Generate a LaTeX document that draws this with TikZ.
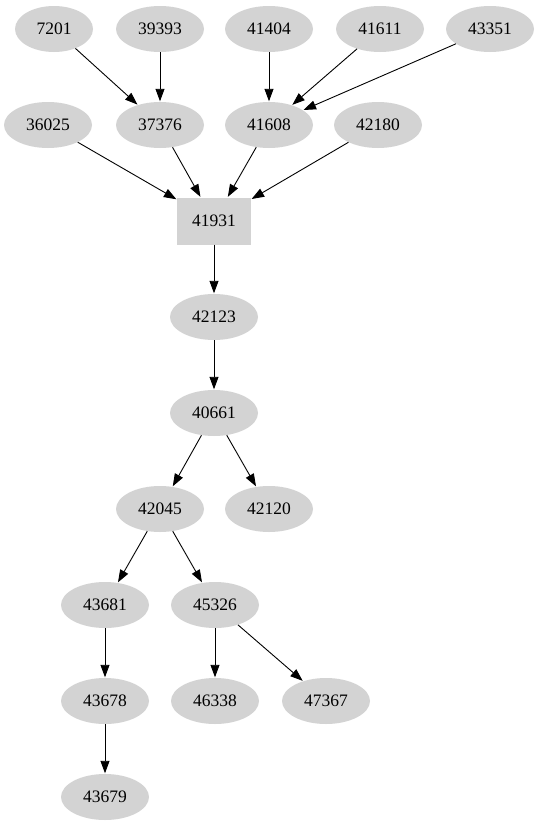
\documentclass[tikz,border=0pt]{standalone}
\usepackage{fontspec}
\setmainfont{Liberation Serif}
\usetikzlibrary{arrows.meta,shapes.geometric}
\definecolor{GGray}{HTML}{D3D3D3}

\begin{document}
\begin{tikzpicture}[
  x=1pt,y=-1pt,
  every node/.style={font=\fontsize{17.5}{20}\selectfont},
  g/.style={ellipse,fill=GGray,inner sep=0pt,
    minimum width=88pt,minimum height=46pt},
  s/.style={rectangle,fill=GGray,inner sep=0pt,
    minimum width=74pt,minimum height=47pt},
  a/.style={-{Triangle[length=12.5pt,width=9pt]},line width=0.9pt,
    color=black,shorten >=0.5pt}
]
  \useasboundingbox (0,0) rectangle (540,827);
  % top rows
  \node[g,minimum width=78pt] (n7201) at (54,29) {7201};
  \node[g] (n39393) at (160,29) {39393};
  \node[g] (n41404) at (269,29) {41404};
  \node[g] (n41611) at (380,29) {41611};
  \node[g] (n43351) at (490,29) {43351};
  \node[g] (n36025) at (48,125) {36025};
  \node[g] (n37376) at (160,125) {37376};
  \node[g] (n41608) at (269,125) {41608};
  \node[g] (n42180) at (378,125) {42180};
  % hub
  \node[s] (n41931) at (214,221) {41931};
  % chain below
  \node[g] (n42123) at (214,317) {42123};
  \node[g] (n40661) at (214,413) {40661};
  \node[g] (n42045) at (160,509) {42045};
  \node[g] (n42120) at (269,509) {42120};
  \node[g] (n43681) at (105,605) {43681};
  \node[g] (n45326) at (215,605) {45326};
  \node[g] (n43678) at (105,701) {43678};
  \node[g] (n46338) at (215,701) {46338};
  \node[g] (n47367) at (326,701) {47367};
  \node[g] (n43679) at (105,797) {43679};
  \foreach \x/\y in {n7201/n37376,n39393/n37376,n41404/n41608,
    n41611/n41608,n43351/n41608,n36025/n41931,n37376/n41931,
    n41608/n41931,n42180/n41931,n41931/n42123,n42123/n40661,
    n40661/n42045,n40661/n42120,n42045/n43681,n42045/n45326,
    n43681/n43678,n45326/n46338,n45326/n47367,n43678/n43679}
    {\draw[a] (\x) -- (\y);}
\end{tikzpicture}
\end{document}
